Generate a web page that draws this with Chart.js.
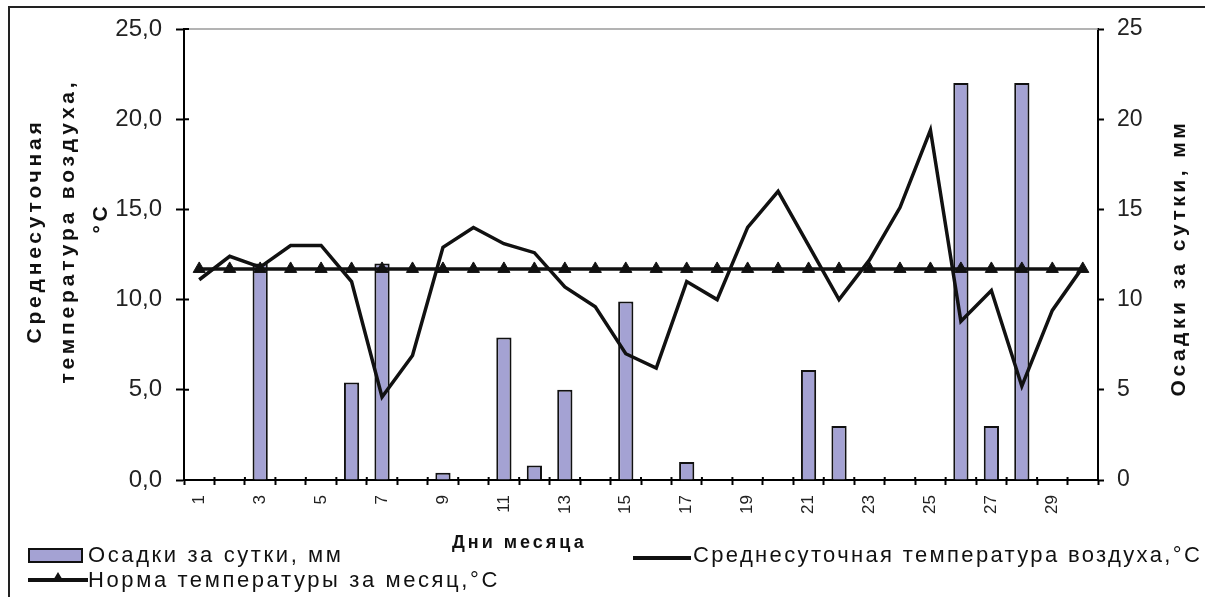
<!DOCTYPE html>
<html lang="ru">
<head>
<meta charset="utf-8">
<title>Осадки и среднесуточная температура воздуха</title>
<script src="https://cdn.jsdelivr.net/npm/chart.js@4.4.1/dist/chart.umd.min.js"></script>
<style>
    html, body { margin: 0; padding: 0; background: #fff; overflow: hidden; }
    #wrap {
        position: relative; width: 1205px; height: 597px; overflow: hidden;
        font-family: 'Liberation Sans', Arial, sans-serif; color: #111;
    }
    #frame {
        position: absolute; left: 8px; top: 6px; width: 1400px; height: 800px;
        border: 2px solid #222; box-sizing: border-box;
    }
    #chart { position: absolute; left: 0; top: 0; }
    .vt {
        position: absolute; width: 400px; height: 24px; line-height: 24px;
        text-align: center; white-space: nowrap; font-weight: bold;
        transform: rotate(-90deg);
    }
    .lg { position: absolute; white-space: nowrap; }
    .lg-text {
        position: absolute; white-space: nowrap;
        font-size: 22px; line-height: 22px; letter-spacing: 2.6px;
    }
    .mk { position: absolute; box-sizing: border-box; }
</style>
</head>
<body>
<div id="wrap">
    <div id="frame"></div>
    <canvas id="chart" width="1205" height="597"></canvas>
    <div id="overlay"></div>
</div>
<script>
(function () {
    'use strict';

    /* ── Data ──────────────────────────────────────────────────────────── */
    const days = ['1', '2', '3', '4', '5', '6', '7', '8', '9', '10',
        '11', '12', '13', '14', '15', '16', '17', '18', '19', '20',
        '21', '22', '23', '24', '25', '26', '27', '28', '29', '30'];

    // осадки за сутки, мм
    const precipitation = [0, 0, 12, 0, 0, 5.4, 12, 0, 0.4, 0,
        7.9, 0.8, 5, 0, 9.9, 0, 1, 0, 0, 0,
        6.1, 3, 0, 0, 0, 22, 3, 22, 0, 0];

    // среднесуточная температура воздуха, °C
    const meanTemp = [11.1, 12.4, 11.8, 13.0, 13.0, 11.0, 4.6, 6.9, 12.9, 14.0,
        13.1, 12.6, 10.7, 9.6, 7.0, 6.2, 11.0, 10.0, 14.0, 16.0,
        13.0, 10.0, 12.2, 15.1, 19.4, 8.8, 10.5, 5.2, 9.4, 11.8];

    // норма температуры за месяц, °C
    const normTemp = [11.7, 11.7, 11.7, 11.7, 11.7, 11.7, 11.7, 11.7, 11.7, 11.7,
        11.7, 11.7, 11.7, 11.7, 11.7, 11.7, 11.7, 11.7, 11.7, 11.7,
        11.7, 11.7, 11.7, 11.7, 11.7, 11.7, 11.7, 11.7, 11.7, 11.7];

    const tempTickLabels = ['0,0', '5,0', '10,0', '15,0', '20,0', '25,0'];
    const precTickLabels = ['0', '5', '10', '15', '20', '25'];

    const BAR_FILL = '#a4a2d3';
    const INK = '#111';
    const FONT = "'Liberation Sans', Arial, sans-serif";

    /* ── Inner tick marks + grey top edge of the plot ─────────────────── */
    const axisExtras = {
        id: 'axisExtras',
        afterDraw(chart) {
            const { ctx, chartArea: a, scales } = chart;
            ctx.save();
            ctx.strokeStyle = '#9a9a9a';
            ctx.lineWidth = 1.5;
            ctx.beginPath();
            ctx.moveTo(a.left, a.top);
            ctx.lineTo(a.right, a.top);
            ctx.stroke();

            ctx.strokeStyle = '#000';
            ctx.lineWidth = 2;
            ctx.beginPath();
            scales.y.ticks.forEach(t => {
                const py = scales.y.getPixelForValue(t.value);
                ctx.moveTo(a.left, py);
                ctx.lineTo(a.left + 5, py);
            });
            const half = (scales.x.getPixelForValue(1) - scales.x.getPixelForValue(0)) / 2;
            for (let i = 0; i <= days.length; i++) {
                const px = scales.x.getPixelForValue(i) - half;
                ctx.moveTo(px, a.bottom);
                ctx.lineTo(px, a.bottom - 3);
            }
            ctx.stroke();
            ctx.restore();
        }
    };

    const axisCommon = {
        min: 0,
        max: 25,
        border: { color: '#000', width: 2 },
    };

    const chart = new Chart(document.getElementById('chart').getContext('2d'), {
        data: {
            labels: days,
            datasets: [
                {
                    type: 'line',
                    label: 'Среднесуточная температура воздуха,°С',
                    data: meanTemp,
                    yAxisID: 'y',
                    borderColor: INK,
                    borderWidth: 3.5,
                    pointRadius: 0,
                    tension: 0,
                    order: 1
                },
                {
                    type: 'line',
                    label: 'Норма температуры за месяц,°С',
                    data: normTemp,
                    yAxisID: 'y',
                    borderColor: INK,
                    borderWidth: 3.5,
                    pointStyle: 'triangle',
                    pointRadius: 7,
                    pointBackgroundColor: INK,
                    pointBorderColor: INK,
                    pointBorderWidth: 1,
                    order: 2
                },
                {
                    type: 'bar',
                    label: 'Осадки за сутки, мм',
                    data: precipitation,
                    yAxisID: 'y1',
                    backgroundColor: BAR_FILL,
                    borderColor: INK,
                    borderWidth: 2,
                    borderSkipped: 'bottom',
                    barPercentage: 0.5,
                    categoryPercentage: 1,
                    order: 3
                }
            ]
        },
        options: {
            responsive: false,
            animation: false,
            devicePixelRatio: 1,
            layout: { padding: { top: 29, left: 0, right: 0, bottom: 0 } },
            font: { family: FONT },
            plugins: {
                legend: { display: false },
                tooltip: { enabled: false }
            },
            scales: {
                x: {
                    offset: true,
                    grid: {
                        offset: true, drawOnChartArea: false, drawTicks: true,
                        tickLength: 5, tickColor: '#000', tickWidth: 2
                    },
                    border: { color: '#000', width: 2 },
                    ticks: {
                        autoSkip: false, minRotation: 90, maxRotation: 90,
                        padding: 10, color: '#222',
                        font: { family: FONT, size: 17 },
                        callback: (v, i) => (i % 2 === 0 ? days[i] : '')
                    },
                    afterFit(s) { s.height = 117; }
                },
                y: {
                    ...axisCommon,
                    position: 'left',
                    grid: {
                        drawOnChartArea: false, tickLength: 8,
                        tickColor: '#000', tickWidth: 2
                    },
                    ticks: {
                        stepSize: 5, padding: 14, color: '#222',
                        font: { family: FONT, size: 24 },
                        callback: (v, i) => tempTickLabels[i]
                    },
                    afterFit(s) { s.width = 184; }
                },
                y1: {
                    ...axisCommon,
                    position: 'right',
                    grid: {
                        drawOnChartArea: false, tickLength: 6,
                        tickColor: '#000', tickWidth: 2
                    },
                    ticks: {
                        stepSize: 5, padding: 13, color: '#222',
                        font: { family: FONT, size: 23 },
                        callback: (v, i) => precTickLabels[i]
                    },
                    afterFit(s) { s.width = 107; }
                }
            }
        },
        plugins: [axisExtras]
    });

    /* ── Titles and legend as HTML text on top of the canvas ──────────── */
    const overlay = document.getElementById('overlay');

    function vText(text, cx, cy, size, spacing) {
        const el = document.createElement('div');
        el.className = 'vt';
        el.textContent = text;
        el.style.left = (cx - 200) + 'px';
        el.style.top = (cy - 12) + 'px';
        el.style.fontSize = size + 'px';
        el.style.letterSpacing = spacing + 'px';
        overlay.appendChild(el);
    }

    // left axis title, three lines as in the original
    vText('Среднесуточная', 34, 231, 21, 3.8);
    vText('температура воздуха,', 67, 231, 21, 3.8);
    vText('°С', 100, 218, 21, 3.8);
    // right axis title
    vText('Осадки за сутки, мм', 1178, 258, 21, 3.5);

    // x axis title
    const xt = document.createElement('div');
    xt.className = 'lg';
    xt.textContent = 'Дни месяца';
    Object.assign(xt.style, {
        left: '452px', top: '533px', fontSize: '18px', lineHeight: '18px',
        fontWeight: 'bold', letterSpacing: '3px'
    });
    overlay.appendChild(xt);

    function addText(label, x, y, spacing) {
        const t = document.createElement('div');
        t.className = 'lg-text';
        t.textContent = label;
        t.style.left = x + 'px';
        t.style.top = y + 'px';
        if (spacing !== undefined) t.style.letterSpacing = spacing + 'px';
        overlay.appendChild(t);
    }

    function addMarker(css) {
        const m = document.createElement('div');
        m.className = 'mk';
        Object.assign(m.style, css);
        overlay.appendChild(m);
    }

    const ds = chart.data.datasets;

    // bars
    addMarker({ left: '28px', top: '548px', width: '55px', height: '15px',
        background: BAR_FILL, border: '2px solid ' + INK });
    addText(ds[2].label, 88, 544);

    // mean temperature line
    addMarker({ left: '633px', top: '556px', width: '58px', height: '4px', background: INK });
    addText(ds[0].label, 693, 544, 2.35);

    // norm line with triangle
    addMarker({ left: '28px', top: '578px', width: '60px', height: '4px', background: INK });
    addMarker({ left: '52px', top: '572px', width: '0', height: '0',
        borderLeft: '6px solid transparent', borderRight: '6px solid transparent',
        borderBottom: '10px solid ' + INK });
    addText(ds[1].label, 88, 569);
})();
</script>
</body>
</html>
